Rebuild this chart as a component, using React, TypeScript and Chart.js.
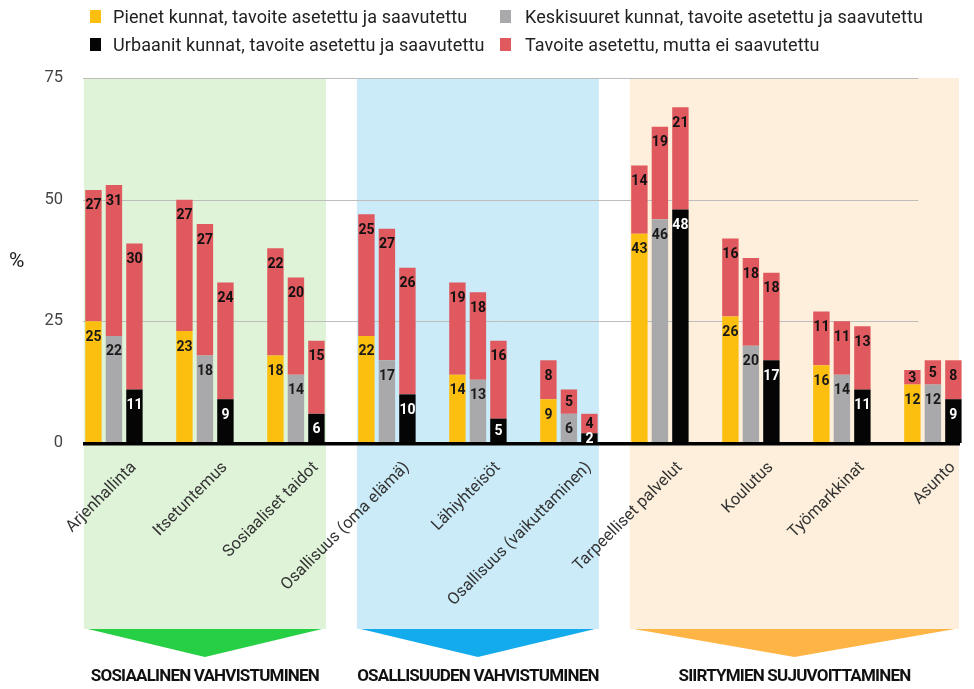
import React, { useEffect, useRef } from 'react';
import { Chart, registerables } from 'chart.js';

Chart.register(...registerables);

const categories = [
  'Arjenhallinta',
  'Itsetuntemus',
  'Sosiaaliset taidot',
  'Osallisuus (oma elämä)',
  'Lähiyhteisöt',
  'Osallisuus (vaikuttaminen)',
  'Tarpeelliset palvelut',
  'Koulutus',
  'Työmarkkinat',
  'Asunto',
];
const smallAchieved = [25, 23, 18, 22, 14, 9, 43, 26, 16, 12];
const smallNotAchieved = [27, 27, 22, 25, 19, 8, 14, 16, 11, 3];
const mediumAchieved = [22, 18, 14, 17, 13, 6, 46, 20, 14, 12];
const mediumNotAchieved = [31, 27, 20, 27, 18, 5, 19, 18, 11, 5];
const urbanAchieved = [11, 9, 6, 10, 5, 2, 48, 17, 11, 9];
const urbanNotAchieved = [30, 24, 15, 26, 16, 4, 21, 18, 13, 8];
const yTicks = [0, 25, 50, 75];
const groupNames = ['SOSIAALINEN VAHVISTUMINEN', 'OSALLISUUDEN VAHVISTUMINEN', 'SIIRTYMIEN SUJUVOITTAMINEN'];
const groupFirst = [0, 3, 6];
const groupLast = [2, 5, 9];
const legendLabels = [
  'Pienet kunnat, tavoite asetettu ja saavutettu',
  'Keskisuuret kunnat, tavoite asetettu ja saavutettu',
  'Urbaanit kunnat, tavoite asetettu ja saavutettu',
  'Tavoite asetettu, mutta ei saavutettu',
];

const YELLOW = '#FDBF0F';
const GRAY = '#A9A9AB';
const BLACK = '#050505';
const RED = '#E0595F';
const BAND_COLORS = ['#DFF3D8', '#CBEBF9', '#FDEFDB'];
const TRI_COLORS = ['#27CF45', '#14ABEC', '#FFB446'];

const toPoints = (arr: number[]) => arr.map((v, i) => ({ x: i, y: v }));

const decorPlugin = {
  id: 'decor',
  beforeDraw(chart: any) {
    const { ctx, chartArea, scales } = chart;
    const x = scales.x;
    ctx.save();
    for (let g = 0; g < 3; g++) {
      const l = x.getPixelForValue(groupFirst[g] - 0.33);
      const r = Math.min(x.getPixelForValue(groupLast[g] + 0.33), chartArea.right - 3);
      ctx.fillStyle = BAND_COLORS[g];
      ctx.fillRect(l, chartArea.top, r - l, 629 - chartArea.top);
    }
    ctx.restore();
  },
  beforeDatasetsDraw(chart: any) {
    const { ctx, chartArea, scales } = chart;
    const y = scales.y;
    const x = scales.x;
    ctx.save();
    ctx.strokeStyle = '#BDBDBD';
    ctx.lineWidth = 1;
    const right = x.getPixelForValue(8.84);
    for (const t of yTicks) {
      if (t === 0) continue;
      const py = Math.round(y.getPixelForValue(t)) + 0.5;
      ctx.beginPath();
      ctx.moveTo(chartArea.left, py);
      ctx.lineTo(right, py);
      ctx.stroke();
    }
    ctx.restore();
  },
  afterDatasetsDraw(chart: any) {
    const { ctx, chartArea } = chart;
    ctx.save();
    ctx.fillStyle = '#000';
    ctx.fillRect(chartArea.left, chartArea.bottom - 1, chartArea.right - chartArea.left - 2, 3.5);
    ctx.font = 'bold 14px Roboto';
    ctx.textAlign = 'center';
    ctx.textBaseline = 'middle';
    chart.data.datasets.forEach((ds: any, di: number) => {
      const meta = chart.getDatasetMeta(di);
      meta.data.forEach((el: any, i: number) => {
        const { x, y, base } = el.getProps(['x', 'y', 'base'], true);
        const top = Math.min(y, base);
        const bottom = Math.max(y, base);
        const ly = Math.min(top + 16, (top + bottom) / 2 + 1);
        ctx.fillStyle = ds.labelColor;
        ctx.fillText(String(ds.data[i].y), x, ly);
      });
    });
    ctx.restore();
  },
  afterDraw(chart: any) {
    const { ctx, chartArea, scales } = chart;
    const x = scales.x;
    ctx.save();
    for (let g = 0; g < 3; g++) {
      const l = x.getPixelForValue(groupFirst[g] - 0.33);
      const r = Math.min(x.getPixelForValue(groupLast[g] + 0.33), chartArea.right - 3);
      const c = (l + r) / 2;
      ctx.fillStyle = TRI_COLORS[g];
      ctx.beginPath();
      ctx.moveTo(l + 4, 629);
      ctx.lineTo(r - 4, 629);
      ctx.lineTo(c, 657);
      ctx.closePath();
      ctx.fill();
      ctx.fillStyle = '#111';
      ctx.font = 'bold 17px Roboto';
      (ctx as any).letterSpacing = '-0.8px';
      ctx.textAlign = 'center';
      ctx.textBaseline = 'middle';
      ctx.fillText(groupNames[g], c, 677);
      (ctx as any).letterSpacing = '0px';
    }
    ctx.fillStyle = '#222';
    ctx.font = '21px Roboto';
    ctx.textAlign = 'left';
    ctx.textBaseline = 'middle';
    ctx.fillText('%', 9, 262);
    ctx.restore();
  },
};

export default function App() {
  const canvasRef = useRef<HTMLCanvasElement | null>(null);

  useEffect(() => {
    if (!canvasRef.current) return;
    const chart = new Chart(canvasRef.current, {
      type: 'bar',
      data: {
        datasets: [
          { label: legendLabels[0], data: toPoints(smallAchieved), backgroundColor: YELLOW, stack: 'p', labelColor: '#1a1a1a' } as any,
          { label: legendLabels[1], data: toPoints(mediumAchieved), backgroundColor: GRAY, stack: 'k', labelColor: '#1a1a1a' } as any,
          { label: legendLabels[2], data: toPoints(urbanAchieved), backgroundColor: BLACK, stack: 'u', labelColor: '#ffffff' } as any,
          { label: legendLabels[3], data: toPoints(smallNotAchieved), backgroundColor: RED, stack: 'p', labelColor: '#111' } as any,
          { label: legendLabels[3], data: toPoints(mediumNotAchieved), backgroundColor: RED, stack: 'k', labelColor: '#111' } as any,
          { label: legendLabels[3], data: toPoints(urbanNotAchieved), backgroundColor: RED, stack: 'u', labelColor: '#111' } as any,
        ],
      },
      options: {
        responsive: false,
        animation: false,
        devicePixelRatio: 1,
        categoryPercentage: 0.676,
        barPercentage: 0.8,
        layout: { padding: { top: 78, right: 12, left: 0, bottom: 0 } },
        plugins: {
          legend: { display: false },
          tooltip: { enabled: false },
        },
        scales: {
          x: {
            type: 'linear',
            min: -0.34,
            max: 9.32,
            offset: false,
            grid: { display: false, offset: false },
            border: { display: false },
            afterFit: (scale: any) => {
              scale.height = 689 - 443;
            },
            ticks: {
              stepSize: 1,
              includeBounds: false,
              autoSkip: false,
              minRotation: 45,
              maxRotation: 45,
              padding: 7,
              labelOffset: 20,
              color: '#333',
              font: { family: 'Roboto', size: 16.5 },
              callback: (v: any) => {
                const n = Number(v);
                return Number.isInteger(n) && n >= 0 && n < categories.length ? categories[n] : '';
              },
            },
          },
          y: {
            stacked: true,
            min: 0,
            max: 75,
            grid: { display: false, drawTicks: false },
            border: { display: false },
            afterFit: (scale: any) => {
              scale.width = 83;
            },
            afterBuildTicks: (scale: any) => {
              scale.ticks = yTicks.map((v) => ({ value: v }));
            },
            ticks: {
              padding: 20,
              color: '#444',
              font: { family: 'Roboto', size: 16.5 },
            },
          },
        },
      } as any,
      plugins: [decorPlugin],
    });
    return () => chart.destroy();
  }, []);

  const markerColors = [YELLOW, GRAY, BLACK, RED];
  const legendPos = [
    { mx: 90, tx: 113, y: 17 },
    { mx: 500, tx: 525, y: 17 },
    { mx: 90, tx: 113, y: 45 },
    { mx: 500, tx: 525, y: 45 },
  ];

  return (
    <div style={{ position: 'fixed', left: 0, top: 0, width: 974, height: 689, background: '#fff', overflow: 'hidden' }}>
      <canvas ref={canvasRef} width={974} height={689} style={{ position: 'absolute', left: 0, top: 0, width: 974, height: 689 }} />
      {legendLabels.map((lab, i) => (
        <React.Fragment key={lab}>
          <div
            style={{
              position: 'absolute',
              left: legendPos[i].mx,
              top: legendPos[i].y - 7,
              width: 11,
              height: 13,
              background: markerColors[i],
            }}
          />
          <div
            style={{
              position: 'absolute',
              left: legendPos[i].tx,
              top: legendPos[i].y - 11,
              height: 22,
              lineHeight: '22px',
              fontFamily: 'Roboto',
              fontSize: 18,
              letterSpacing: '0.1px',
              color: '#222',
              whiteSpace: 'nowrap',
            }}
          >
            {lab}
          </div>
        </React.Fragment>
      ))}
    </div>
  );
}
